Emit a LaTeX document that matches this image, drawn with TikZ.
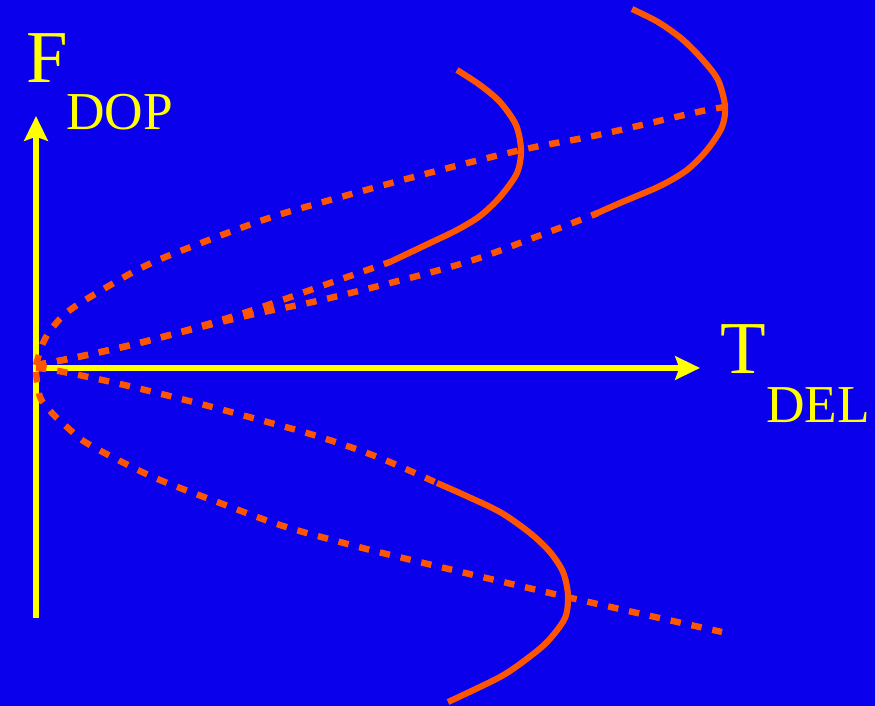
\documentclass[tikz,border=0pt]{standalone}
\usepackage{fontspec}
\setmainfont{Liberation Serif}
\usetikzlibrary{arrows.meta}
\definecolor{bgblue}{RGB}{10,0,235}
\definecolor{curveorange}{RGB}{255,85,0}
\definecolor{axisyellow}{RGB}{255,255,0}
\tikzset{
  axisline/.style={draw=axisyellow, line width=4pt, -{Stealth[length=18.5pt,width=17.5pt,inset=3pt]}},
  solidcurve/.style={draw=curveorange, line width=4.6pt, line join=round},
  dashcurve/.style={draw=curveorange, line width=4.8pt, dash pattern=on 7.8pt off 8.2pt},
  biglabel/.style={text=axisyellow, inner sep=0pt, anchor=base west, font=\fontsize{56}{56}\selectfont},
  sublabel/.style={text=axisyellow, inner sep=0pt, anchor=base west, font=\fontsize{40}{40}\selectfont}
}
\begin{document}
\begin{tikzpicture}[x=0.75pt, y=-0.75pt]
\fill[bgblue] (0,0) rectangle (875,706);
\useasboundingbox (0,0) rectangle (875,706);
% axes
\coordinate (yb) at (36,618);
\coordinate (yt) at (36,116);
\coordinate (xl) at (36,368);
\coordinate (xr) at (700,368);
\draw[axisline] (yb) -- (yt);
\draw[axisline] (xl) -- (xr);
% labels
\node[biglabel] (F) at (26,83) {F};
\node[sublabel] (DOP) at (66,130) {DOP};
\node[biglabel] (T) at (720,373) {T};
\node[sublabel] (DEL) at (766,422) {DEL};
% solid curves
\draw[solidcurve] plot[smooth, tension=0.5] coordinates {(457,70) (480,85) (500,102) (516,125) (521,150) (517,173) (500,197) (480,216) (457,230) (430,243) (390,262)};
\draw[solidcurve] plot[smooth, tension=0.5] coordinates {(632,9) (658,22) (682,39) (702,59) (718,80) (725,106) (722,127) (707,150) (687,170) (660,186) (620,203) (593,215)};
\draw[solidcurve] plot[smooth, tension=0.5] coordinates {(437,483) (462,494) (500,512) (530,533) (550,552) (563,572) (568,595) (565,618) (548,641) (528,658) (500,677) (448,702)};
% dashed curves
\draw[dashcurve] plot[smooth, tension=0.6] coordinates {(36,365) (43,343) (53,327) (70,310) (107,287) (143,267) (183,250) (263,220) (323,202) (425,174) (521,150) (598,135) (693,113) (725,107)};
\draw[dashcurve] plot[smooth, tension=0.6] coordinates {(36,365) (63,360) (87,355) (127,346) (170,335) (250,311) (330,283) (390,262)};
\draw[dashcurve] plot[smooth, tension=0.6] coordinates {(36,365) (63,360) (87,355) (127,346) (170,335) (250,315) (330,298) (457,265) (533,238) (598,213)};
\draw[dashcurve] plot[smooth, tension=0.6] coordinates {(36,368) (53,370) (93,378) (137,388) (197,403) (260,420) (320,437) (380,458) (437,483)};
\draw[dashcurve] plot[smooth, tension=0.6] coordinates {(36,372) (40,397) (52,413) (68,428) (85,442) (122,462) (160,480) (220,503) (280,525) (340,542) (403,558) (567,597) (722,632)};
\end{tikzpicture}
\end{document}
